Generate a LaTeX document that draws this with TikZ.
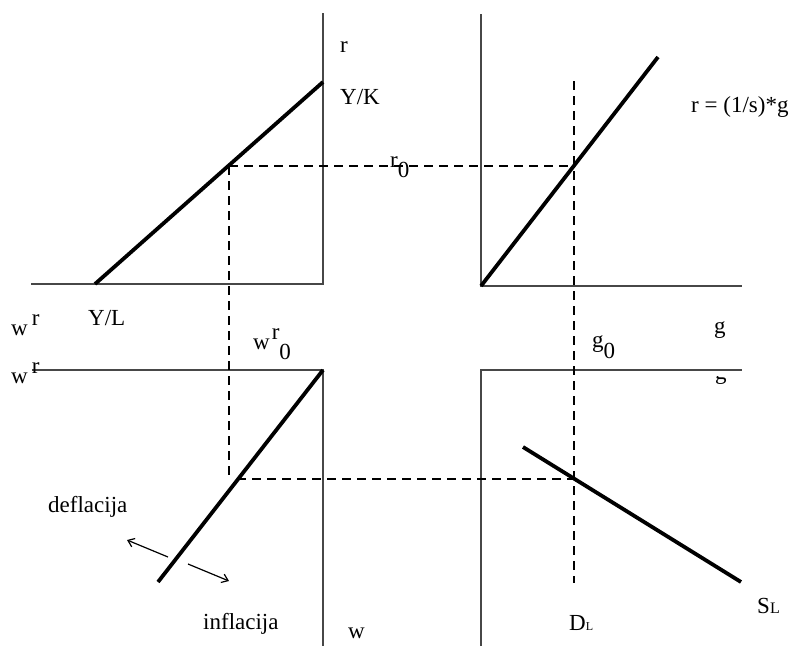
\documentclass[tikz,border=0pt]{standalone}
\usepackage{fontspec}
\setmainfont{Liberation Serif}
\usetikzlibrary{arrows.meta}
\begin{document}
\begin{tikzpicture}[x=1pt,y=-1pt]
		\tikzstyle{every node}+=[inner sep=0pt,anchor=base west,font=\fontsize{23}{27}\selectfont]
		\tikzstyle{axis}=[draw=black!72,line width=1.6pt]
		\tikzstyle{curve}=[draw=black,line width=3.8pt]
		\tikzstyle{guide}=[draw=black,line width=1.8pt,dash pattern=on 9pt off 6pt]
		\tikzstyle{shiftarrow}=[draw=black,line width=1.2pt,-{Straight Barb[length=6pt,width=9pt]}]
		\useasboundingbox (0,0) rectangle (791,646);
		% top left
		\coordinate (tlO) at (323,284);
		\coordinate (tlTop) at (323,13);
		\coordinate (tlLeft) at (31,284);
		\coordinate (ylEnd) at (95,284);
		\coordinate (ykEnd) at (323,82);
		\draw [axis] (tlLeft) -- (tlO) -- (tlTop);
		\draw [curve] (ylEnd) -- (ykEnd);
		% top right
		\coordinate (trO) at (481,286);
		\coordinate (trTop) at (481,14);
		\coordinate (trRight) at (742,286);
		\coordinate (sgEnd) at (658,57);
		\draw [axis] (trTop) -- (trO) -- (trRight);
		\draw [curve] (trO) -- (sgEnd);
		% bottom left
		\coordinate (blO) at (323,370);
		\coordinate (blLeft) at (32,370);
		\coordinate (blBot) at (323,646);
		\coordinate (wrEnd) at (158,582);
		\draw [axis] (blLeft) -- (blO) -- (blBot);
		\draw [curve] (blO) -- (wrEnd);
		% bottom right
		\coordinate (brO) at (481,370);
		\coordinate (brRight) at (742,370);
		\coordinate (brBot) at (481,646);
		\coordinate (slTop) at (523,447);
		\coordinate (slEnd) at (741,582);
		\draw [axis] (brBot) -- (brO) -- (brRight);
		\draw [curve] (slTop) -- (slEnd);
		% dashed guides
		\coordinate (rA) at (229,166);
		\coordinate (rB) at (574,166);
		\coordinate (gTop) at (574,81);
		\coordinate (gBot) at (574,583);
		\coordinate (wA) at (229,479);
		\coordinate (wB) at (237,479);
		\coordinate (wC) at (575,479);
		\draw [guide] (rA) -- (rB);
		\draw [guide] (rA) -- (wA);
		\draw [guide] (wB) -- (wC);
		\draw [guide] (gTop) -- (gBot);
		% shift arrows
		\coordinate (defS) at (168,557);
		\coordinate (defE) at (127,540);
		\coordinate (infS) at (188,564);
		\coordinate (infE) at (229,581);
		\draw [shiftarrow] (defS) -- (defE);
		\draw [shiftarrow] (infS) -- (infE);
		% labels
		\draw (340,52) node (rAxis) {r};
		\draw (340,104) node (yk) {Y/K};
		\draw (390,167) node (r0) {r\raisebox{-10pt}{0}};
		\draw (691,112) node (rLaw) {r = (1/s)*g};
		\draw (11,335) node (wrUp) {w\hspace{4pt}\raisebox{10pt}{r}};
		\draw (88,325) node (yl) {Y/L};
		\draw (253,349) node (wr0) {w\hspace{2pt}\raisebox{10pt}{r}\raisebox{-10pt}{0}};
		\draw (11,383) node (wrLow) {w\hspace{4pt}\raisebox{10pt}{r}};
		\draw (714,333) node (gAxis) {g};
		\draw (592,347) node (g0) {g\raisebox{-11pt}{0}};
		\begin{scope}
			\clip (700,376) rectangle (740,392);
			\draw (715,379) node (gCut) {g};
		\end{scope}
		\draw (48,512) node (defl) {deflacija};
		\draw (203,629) node (infl) {inflacija};
		\draw (348,638) node (wAxis) {w};
		\draw (569,630) node (dl) {D{\fontsize{12}{14}\selectfont L}};
		\draw (757,613) node (sl) {S{\fontsize{16}{18}\selectfont L}};
	\end{tikzpicture}
\end{document}
